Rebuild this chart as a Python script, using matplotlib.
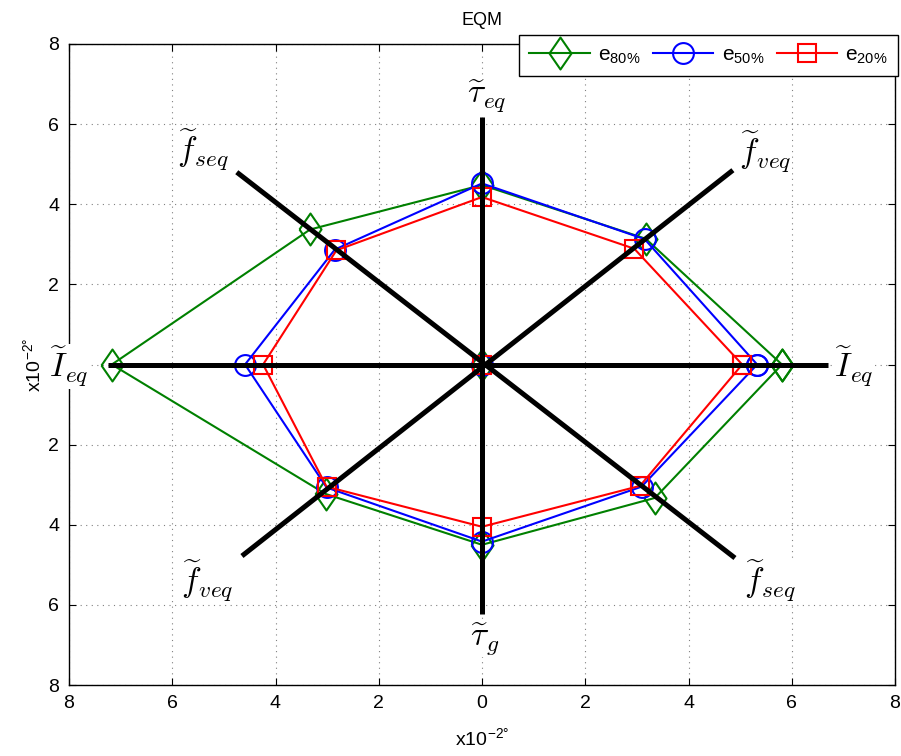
import matplotlib
matplotlib.use("Agg")
import matplotlib.pyplot as plt
import numpy as np

plt.rcParams['font.family'] = ['Liberation Sans', 'DejaVu Sans']
plt.rcParams['mathtext.fontset'] = 'cm'

# ---- data ----
series_names = [r'$\mathregular{e_{80\%}}$', r'$\mathregular{e_{50\%}}$', r'$\mathregular{e_{20\%}}$']
# vertices: right, upper-right, top, upper-left, left, lower-left, bottom, lower-right
e80_x = [5.81, 3.17, 0.0, -3.33, -7.17, -3.03, 0.0, 3.35]
e80_y = [0.0, 3.14, 4.48, 3.37, 0.0, -3.23, -4.50, -3.33]
e50_x = [5.33, 3.15, 0.0, -2.85, -4.59, -3.01, 0.0, 3.09]
e50_y = [0.0, 3.13, 4.52, 2.87, 0.0, -3.07, -4.42, -3.05]
e20_x = [5.04, 2.95, 0.0, -2.82, -4.24, -3.01, 0.0, 3.06]
e20_y = [0.0, 2.89, 4.18, 2.85, 0.0, -3.05, -4.05, -3.03]

# axis spokes (end points)
spoke_x0 = [-7.25, 0.0, -4.65, -4.75]
spoke_y0 = [0.0, -6.22, -4.78, 4.80]
spoke_x1 = [6.70, 0.0, 4.86, 4.90]
spoke_y1 = [0.0, 6.18, 4.85, -4.83]

# direction labels
dir_labels = [r'$\widetilde{I}_{eq}$', r'$\widetilde{f}_{veq}$', r'$\widetilde{\tau}_{eq}$',
              r'$\widetilde{f}_{seq}$', r'$\widetilde{I}_{eq}$', r'$\widetilde{f}_{veq}$',
              r'$\widetilde{\tau}_{g}$', r'$\widetilde{f}_{seq}$']
dir_x = [7.20, 5.48, 0.10, -5.40, -8.00, -5.33, 0.05, 5.58]
dir_y = [-0.05, 5.30, 6.70, 5.35, -0.05, -5.40, -6.85, -5.40]

ticks = [-8, -6, -4, -2, 0, 2, 4, 6, 8]
xtick_labels = ['8', '6', '4', '2', '0', '2', '4', '6', '8']
ytick_labels = ['8', '6', '4', '2', '', '2', '4', '6', '8']

# ---- figure ----
fig = plt.figure(figsize=(9.01, 7.56), dpi=100)
ax = fig.add_axes([69/901, 1-685/756, 826/901, 641/756])

diamond = [(-0.69, 0), (0, 1), (0.69, 0), (0, -1), (-0.69, 0)]
styles = [dict(color='#008000', marker=diamond, ms=23),
          dict(color='#0000ff', marker='o', ms=15),
          dict(color='#ff0000', marker='s', ms=13)]
data = [(e80_x, e80_y), (e50_x, e50_y), (e20_x, e20_y)]

handles = []
for (xs, ys), st, name in zip(data, styles, series_names):
    xc = list(xs) + [xs[0]]
    yc = list(ys) + [ys[0]]
    h, = ax.plot(xc, yc, color=st['color'], lw=1.5, marker=st['marker'], ms=st['ms'],
                 mfc='none', mec=st['color'], mew=1.5, label=name, zorder=3)
    ax.plot([0], [0], linestyle='none', marker=st['marker'], ms=st['ms'],
            mfc='none', mec=st['color'], mew=1.5, zorder=3)
    handles.append(h)

for x0, y0, x1, y1 in zip(spoke_x0, spoke_y0, spoke_x1, spoke_y1):
    ax.plot([x0, x1], [y0, y1], color='k', lw=3.6, solid_capstyle='butt', zorder=4)

for lab, x, y in zip(dir_labels, dir_x, dir_y):
    ax.text(x, y, lab, fontsize=24, ha='center', va='center', zorder=5,
            bbox=dict(facecolor='white', edgecolor='none', pad=0.5))

ax.set_xlim(-8, 8)
ax.set_ylim(-8, 8)
ax.set_xticks(ticks)
ax.set_yticks(ticks)
ax.set_xticklabels(xtick_labels)
ax.set_yticklabels(ytick_labels)
ax.tick_params(direction='in', length=5, width=0.8, labelsize=14, top=True, right=True, pad=7)
ax.grid(True, linestyle=(0, (1, 4)), color='0.5', lw=0.8)
for s in ax.spines.values():
    s.set_linewidth(1.0)

ax.set_title('EQM', fontsize=13, pad=14)
ax.set_xlabel(r'x10$^{\mathregular{-2°}}$', fontsize=14)
ax.set_ylabel(r'x10$^{\mathregular{-2°}}$', fontsize=14)
ax.xaxis.set_label_coords(0.5, -0.066)
ax.yaxis.set_label_coords(-0.029, 0.5)

leg = ax.legend(handles=handles, loc='upper right', bbox_to_anchor=(1.004, 1.014), ncol=3,
                fontsize=15, handlelength=2.9, columnspacing=0.6, handletextpad=0.4,
                borderaxespad=0, fancybox=False, framealpha=1, edgecolor='k',
                borderpad=0.5)
leg.get_frame().set_linewidth(1.0)
leg.set_zorder(10)

fig.savefig('out.png', dpi=100)
